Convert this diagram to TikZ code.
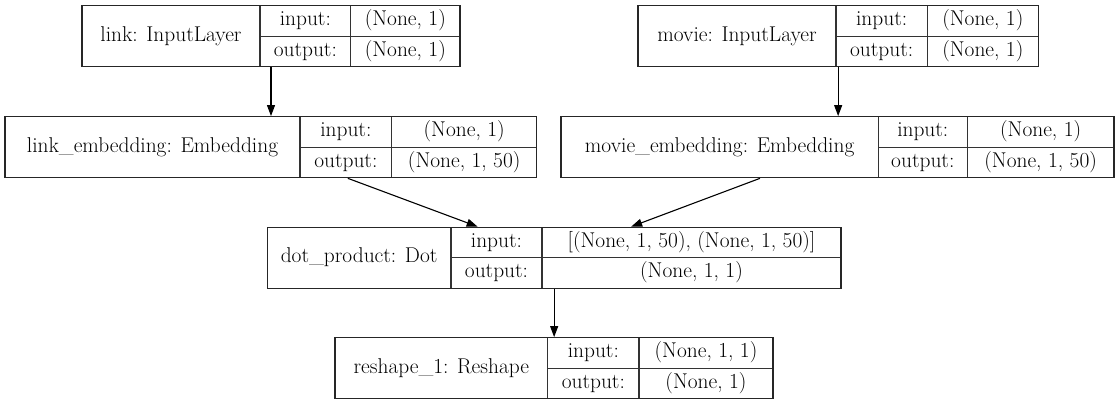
\documentclass[tikz,border=0pt]{standalone}
\usepackage{fontspec}
\usetikzlibrary{arrows.meta,fit}
\tikzset{
  boxframe/.style={draw=black!85, line width=1.25pt, inner sep=0pt, rectangle},
  celltxt/.style={inner sep=0pt, anchor=center, text height=14pt, text depth=4.4pt,
    font=\fontsize{21.4}{26}\selectfont},
  divider/.style={draw=black!80, line width=1.25pt},
  arr/.style={draw=black, line width=1.1pt, -{Triangle[length=11pt,width=8pt]}}
}
\newcommand\layerbox[9]{%
  \coordinate (#1-nw) at (#2,#6);
  \coordinate (#1-se) at (#5,{#6+61});
  \draw[divider] (#3,#6) -- (#3,{#6+61});
  \draw[divider] (#4,#6) -- (#4,{#6+61});
  \draw[divider] (#3,{#6+30.5}) -- (#5,{#6+30.5});
  \node[boxframe, fit=(#1-nw)(#1-se)] (#1) {};
  \node[celltxt] (#1-label) at ({(#2+#3)/2},{#6+30.5}) {#7};
  \node[celltxt] (#1-inkey) at ({(#3+#4)/2},{#6+15.25}) {input:};
  \node[celltxt] (#1-outkey) at ({(#3+#4)/2},{#6+45.75}) {output:};
  \node[celltxt] (#1-inval) at ({(#4+#5)/2},{#6+15.25}) {#8};
  \node[celltxt] (#1-outval) at ({(#4+#5)/2},{#6+45.75}) {#9};
}
\begin{document}
\begin{tikzpicture}[x=1pt,y=-1pt]
\useasboundingbox[fill=white] (0,0) rectangle (1120,405);
\layerbox{link}{82}{260}{350.7}{460}{5.7}{link: InputLayer}{(None, 1)}{(None, 1)}
\layerbox{movie}{638}{836}{927.3}{1038.3}{5.7}{movie: InputLayer}{(None, 1)}{(None, 1)}
\layerbox{linkemb}{5}{300}{391.7}{536.7}{116.7}{link\_embedding: Embedding}{(None, 1)}{(None, 1, 50)}
\layerbox{movieemb}{561}{878.3}{967.3}{1114}{116.7}{movie\_embedding: Embedding}{(None, 1)}{(None, 1, 50)}
\layerbox{dot}{267.3}{451}{542}{841}{227.3}{dot\_product: Dot}{[(None, 1, 50), (None, 1, 50)]}{(None, 1, 1)}
\layerbox{reshape}{335}{547.7}{639}{773}{337.7}{reshape\_1: Reshape}{(None, 1, 1)}{(None, 1)}
\draw[arr] (link.south) -- (link.south |- linkemb.north);
\draw[arr] (movie.south) -- (movie.south |- movieemb.north);
\draw[arr] ([xshift=77pt]linkemb.south) -- ([xshift=-76.5pt]dot.north);
\draw[arr] ([xshift=-77.5pt]movieemb.south) -- ([xshift=77pt]dot.north);
\draw[arr] (dot.south) -- (dot.south |- reshape.north);
\end{tikzpicture}
\end{document}
